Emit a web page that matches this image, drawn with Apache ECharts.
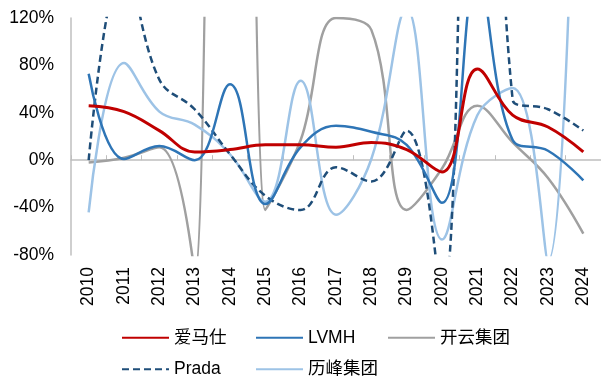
<!DOCTYPE html>
<html>
<head>
<meta charset="utf-8">
<script src="https://cdn.jsdelivr.net/npm/echarts@6/dist/echarts.min.js"></script>
<style>
  html, body { margin: 0; padding: 0; background: #fff; }
  #chart { width: 601px; height: 376px; }
</style>
</head>
<body>
<div id="chart"></div>
<script>
// years on the x axis
var years = ['2010', '2011', '2012', '2013', '2014', '2015', '2016', '2017',
             '2018', '2019', '2020', '2021', '2022', '2023', '2024'];
// growth, % (values beyond the axis run off the plot, as in the picture)
var hermes    = [46, 41, 25, 7, 9, 13, 13, 11, 15, 9, -10, 77, 38, 28, 7];
var lvmh      = [73, 1, 12, 0, 64, -37, 11, 29, 24, 13, -36, 156, 17, 8, -17];
var kering    = [-2, 2, 11, -95, 4000, -42, 17, 120, 110, -42, -7, 46, 15, -15, -62];
var prada     = [0, 165, 68, 43, 5, -30, -42, -6, -18, 25, -121, 900, 51, 43, 25];
var richemont = [-44, 82, 41, 30, 5, -35, 67, -46, 1, 128, -67, 38, 61, -85, 655];
var yTicks = [-80, -40, 0, 40, 80, 120];

var FONT = '"Liberation Sans", Arial, "Noto Sans CJK SC", sans-serif';
var SMOOTH = 0.4;

function line(name, data, color, width, dash) {
    return {
        name: name,
        type: 'line',
        data: data,
        smooth: SMOOTH,
        symbol: 'none',
        clip: true,
        lineStyle: { color: color, width: width, type: dash || 'solid' },
        itemStyle: { color: color }
    };
}

// one legend per column, so the two rows line up like the original
function legendCol(left, names) {
    return {
        orient: 'vertical',
        left: left,
        top: 324,
        height: 60,
        itemWidth: 47,
        itemHeight: 16,
        itemGap: 14,
        itemStyle: { opacity: 0 },
        textStyle: { fontFamily: FONT, fontSize: 17.5, color: '#000', lineHeight: 16 },
        data: names
    };
}

var chart = echarts.init(document.getElementById('chart'));
chart.setOption({
    animation: false,
    backgroundColor: '#fff',
    grid: { left: 71, right: -5, top: 18, bottom: 121 },
    legend: [
        legendCol(116, ['爱马仕', 'Prada']),
        legendCol(250, ['LVMH', '历峰集团']),
        legendCol(382, ['开云集团'])
    ],
    xAxis: {
        type: 'category',
        data: years,
        boundaryGap: true,
        axisLine: { lineStyle: { color: '#bfbfbf', width: 1.5 } },
        axisTick: { show: true, inside: true, length: 5, interval: 0, lineStyle: { color: '#bfbfbf' } },
        axisLabel: { rotate: 90, margin: 12, interval: 0, fontFamily: FONT, fontSize: 17.5, color: '#000' }
    },
    yAxis: {
        type: 'value',
        min: yTicks[0],
        max: yTicks[yTicks.length - 1],
        interval: 40,
        axisLine: { show: true, lineStyle: { color: '#bfbfbf', width: 1.5 } },
        axisTick: { show: false },
        splitLine: { show: false },
        axisLabel: {
            margin: 17,
            fontFamily: FONT, fontSize: 17.5, color: '#000',
            formatter: function (v) { return v + '%'; }
        }
    },
    series: [
        line('开云集团', kering, '#a0a0a0', 2.5),
        line('历峰集团', richemont, '#9dc3e6', 2.5),
        line('Prada', prada, '#1f4e79', 2.5, [7, 4]),
        line('LVMH', lvmh, '#2e75b6', 2.5),
        line('爱马仕', hermes, '#c00000', 3)
    ]
});
</script>
</body>
</html>
